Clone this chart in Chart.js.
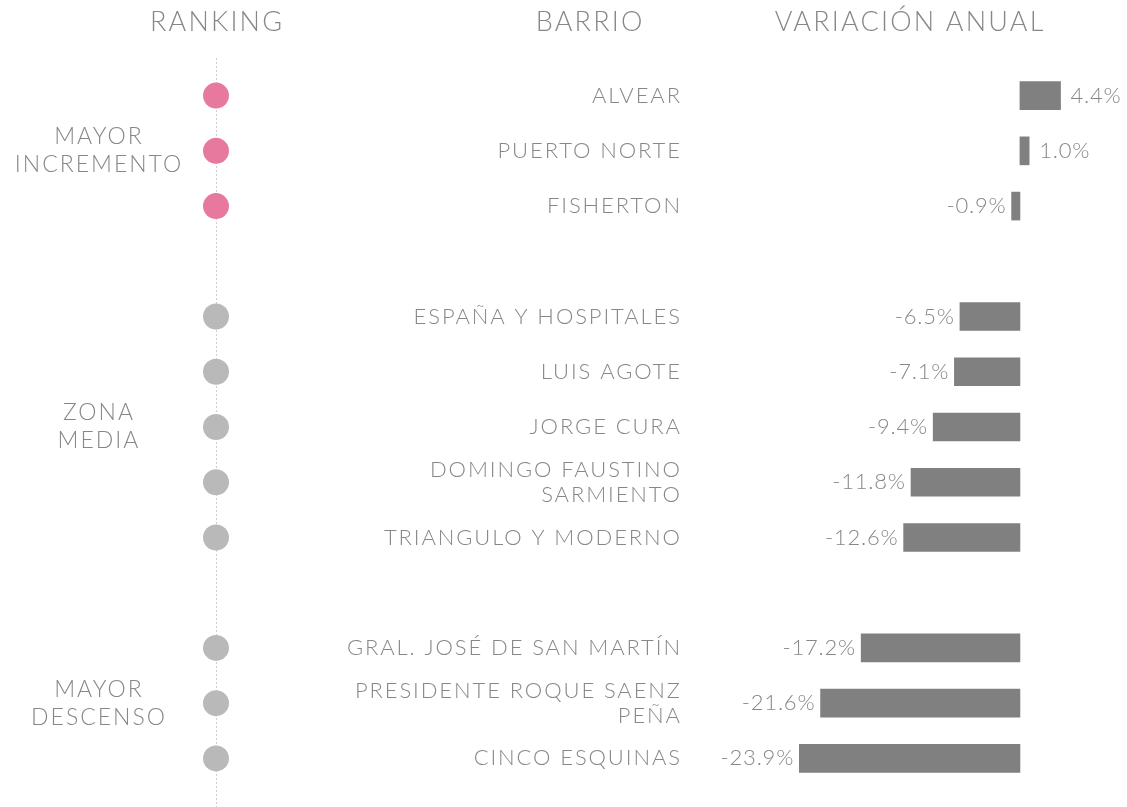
<!DOCTYPE html>
<html lang="es">
<head>
    <meta charset="UTF-8">
    <title>Variación anual por barrio</title>
    <script src="https://cdn.jsdelivr.net/npm/chart.js"></script>
    <style>
        html, body { margin: 0; padding: 0; background: #fff; }
        #contenedor { width: 1127px; height: 807px; position: relative; }
    </style>
</head>
<body>
    <div id="contenedor"><canvas id="graficoBarrios"></canvas></div>

    <script>
        // datos (filas vacías = separación entre grupos)
        var barrios = ['ALVEAR', 'PUERTO NORTE', 'FISHERTON', '',
            'ESPAÑA Y HOSPITALES', 'LUIS AGOTE', 'JORGE CURA', 'DOMINGO FAUSTINO\nSARMIENTO', 'TRIANGULO Y MODERNO', '',
            'GRAL. JOSÉ DE SAN MARTÍN', 'PRESIDENTE ROQUE SAENZ\nPEÑA', 'CINCO ESQUINAS'];
        var variacion = [4.4, 1.0, -0.9, null, -6.5, -7.1, -9.4, -11.8, -12.6, null, -17.2, -21.6, -23.9];
        var grupoDeFila = [0, 0, 0, null, 1, 1, 1, 1, 1, null, 2, 2, 2];
        var grupos = ['MAYOR\nINCREMENTO', 'ZONA\nMEDIA', 'MAYOR\nDESCENSO'];
        var filaCentralGrupo = [1, 6, 11];
        var coloresGrupo = ['#e8799e', '#b9b9b9', '#b9b9b9'];
        var encabezados = ['RANKING', 'BARRIO', 'VARIACIÓN ANUAL'];

        var columnaRanking = 216;   // posición de la columna de puntos (eje x2)
        var finBarrio = 680;
        var gris = '#878787';

        function texto(ctx, str, x, y, align, size, spacing) {
            ctx.font = '300 ' + size + 'px Lato, "Open Sans", sans-serif';
            ctx.fillStyle = gris;
            ctx.textAlign = align;
            ctx.textBaseline = 'middle';
            ctx.letterSpacing = spacing + 'px';
            // el espaciado se agrega también tras la última letra
            var dx = align === 'right' ? spacing : (align === 'center' ? spacing / 2 : 0);
            ctx.fillText(str, x + dx, y);
        }

        var decoracion = {
            id: 'decoracion',
            beforeDatasetsDraw: function(chart) {
                var ctx = chart.ctx;
                ctx.save();
                ctx.strokeStyle = '#cfcfcf';
                ctx.lineWidth = 1;
                ctx.setLineDash([2, 2]);
                var x = chart.scales.x2.getPixelForValue(columnaRanking);
                ctx.beginPath();
                ctx.moveTo(x + 0.5, 58);
                ctx.lineTo(x + 0.5, chart.height);
                ctx.stroke();
                ctx.restore();
            },
            afterDatasetsDraw: function(chart) {
                var ctx = chart.ctx;
                var y = chart.scales.y;
                var barras = chart.getDatasetMeta(0).data;
                ctx.save();

                // encabezados
                texto(ctx, encabezados[0], chart.scales.x2.getPixelForValue(columnaRanking), 22, 'center', 27, 2.2);
                texto(ctx, encabezados[1], 589, 22, 'center', 27, 2.2);
                texto(ctx, encabezados[2], 909, 22, 'center', 27, 2.2);

                // grupos
                grupos.forEach(function(g, i) {
                    var yc = y.getPixelForValue(filaCentralGrupo[i]);
                    var lineas = g.split('\n');
                    lineas.forEach(function(l, j) {
                        texto(ctx, l, 98, yc + (j - (lineas.length - 1) / 2) * 28, 'center', 23, 2);
                    });
                });

                // barrios y valores
                barrios.forEach(function(b, i) {
                    if (!b) return;
                    var yc = y.getPixelForValue(i);
                    var lineas = b.split('\n');
                    lineas.forEach(function(l, j) {
                        texto(ctx, l, finBarrio, yc + (j - (lineas.length - 1) / 2) * 25, 'right', 22, 1.9);
                    });
                    var v = variacion[i];
                    var xb = barras[i].x;
                    var etiqueta = v.toFixed(1) + '%';
                    if (v >= 0) texto(ctx, etiqueta, xb + 10, yc, 'left', 22, 0.8);
                    else texto(ctx, etiqueta, xb - 6, yc, 'right', 22, 0.8);
                });
                ctx.restore();
            }
        };

        var ctx = document.getElementById('graficoBarrios').getContext('2d');
        var grafico = new Chart(ctx, {
            type: 'bar',
            data: {
                labels: barrios,
                datasets: [{
                    label: 'Variación anual',
                    data: variacion,
                    backgroundColor: '#808080',
                    barThickness: 28,
                    xAxisID: 'x',
                    yAxisID: 'y'
                }, {
                    type: 'line',
                    label: 'Ranking',
                    data: barrios.map(function(b) { return b ? columnaRanking : null; }),
                    showLine: false,
                    pointRadius: 13,
                    pointHoverRadius: 13,
                    pointBorderWidth: 0,
                    pointBackgroundColor: grupoDeFila.map(function(g) { return g === null ? 'rgba(0,0,0,0)' : coloresGrupo[g]; }),
                    xAxisID: 'x2',
                    yAxisID: 'y'
                }]
            },
            options: {
                indexAxis: 'y',
                responsive: true,
                maintainAspectRatio: false,
                animation: false,
                layout: { autoPadding: false, padding: { top: 68, bottom: 21, left: 0, right: 0 } },
                plugins: {
                    legend: { display: false },
                    tooltip: { enabled: false }
                },
                scales: {
                    x: { type: 'linear', min: -110.5, max: 11.6, display: false },
                    x2: { type: 'linear', min: 0, max: 1127, display: false },
                    y: { type: 'category', display: false, offset: true }
                }
            },
            plugins: [decoracion]
        });
    </script>
</body>
</html>
